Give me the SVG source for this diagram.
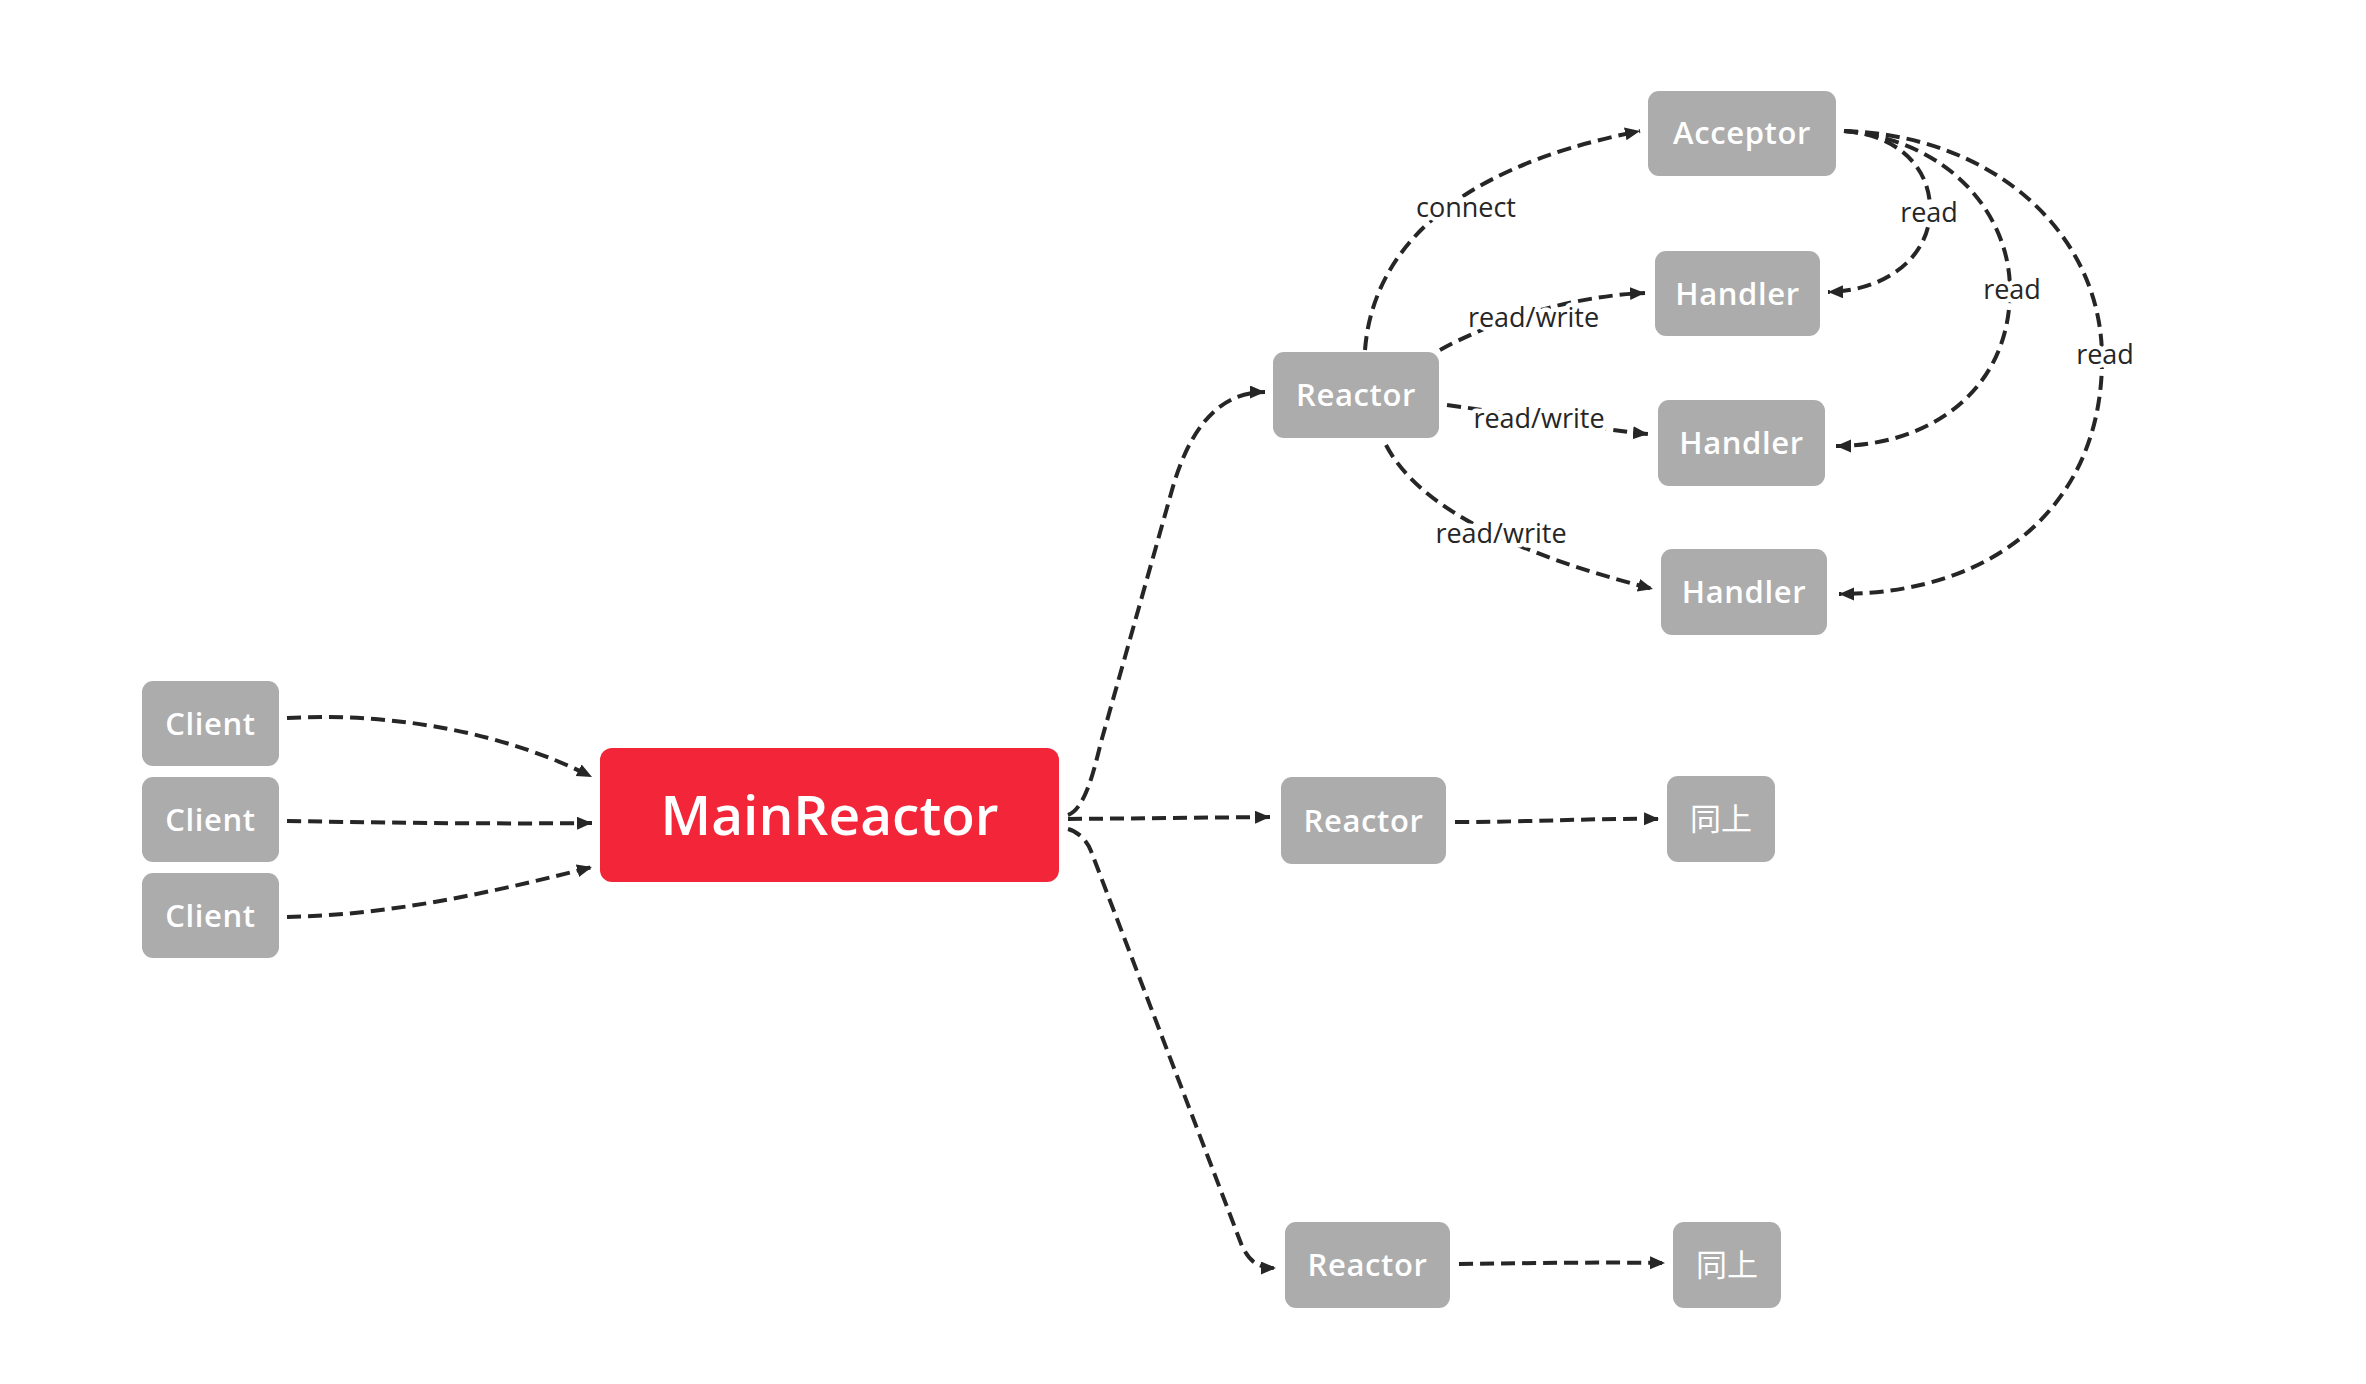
<svg xmlns="http://www.w3.org/2000/svg" width="2366" height="1384" viewBox="0 0 2366 1384">
<style>
.box{fill:#acacac}
.main{fill:#f22638}
.nt{font-family:"Open Sans","Liberation Sans",sans-serif;font-weight:600;font-size:31px;letter-spacing:0.6px;fill:#ffffff;text-anchor:middle}
.cjk{font-family:"Noto Sans CJK SC","Noto Sans",sans-serif;font-weight:400;font-size:31px;fill:#ffffff;text-anchor:middle}
.mt{font-family:"Open Sans","Liberation Sans",sans-serif;font-weight:600;font-size:55px;fill:#ffffff;text-anchor:middle}
.edge{fill:none;stroke:#262626;stroke-width:4;stroke-dasharray:14 7;marker-end:url(#arr)}
.lbl{font-family:"Open Sans","Liberation Sans",sans-serif;font-size:27px;fill:#262626;text-anchor:middle;paint-order:stroke;stroke:#ffffff;stroke-width:9px;stroke-linejoin:round}
</style>
<defs>
<marker id="arr" markerUnits="userSpaceOnUse" markerWidth="17" markerHeight="15" refX="15" refY="6.5" orient="auto">
<path d="M0,0 L15,6.5 L0,13 z" fill="#262626"/>
</marker>
</defs>
<rect width="2366" height="1384" fill="#ffffff"/>
<g id="connectors">
<path class="edge" d="M287,718 C400,712 510,735 592,777"/>
<path class="edge" d="M287,821 C400,823 500,824 592,823"/>
<path class="edge" d="M287,917 C390,915 490,893 592,867"/>
<path class="edge" d="M1068,815 C1088,808 1097,755 1103,735 L1172,490 C1185,444 1210,392 1265,392"/>
<path class="edge" d="M1068,819 L1270,817"/>
<path class="edge" d="M1068,829 C1080,832 1088,843 1091,851 L1242,1246 C1250,1262 1258,1268 1276,1268"/>
<path class="edge" d="M1455,822 C1530,822 1600,818 1659,819"/>
<path class="edge" d="M1459,1264 C1530,1263 1600,1262 1665,1263"/>
<path class="edge" d="M1365,350 C1372,260 1440,170 1640,131"/>
<path class="edge" d="M1440,350 C1490,322 1570,296 1645,293"/>
<path class="edge" d="M1447,405 C1530,416 1600,430 1648,434"/>
<path class="edge" d="M1386,445 C1420,510 1520,555 1653,589"/>
<path class="edge" d="M1844,131 C1900,135 1932,170 1930,213 C1928,258 1885,291 1828,292"/>
<path class="edge" d="M1844,131 C1950,140 2010,215 2010,290 C2010,390 1930,446 1836,446"/>
<path class="edge" d="M1844,131 C1990,135 2100,230 2102,355 C2104,500 2000,594 1839,594"/>
<text class="lbl" x="1466" y="217">connect</text>
<text class="lbl" x="1533.5" y="327">read/write</text>
<text class="lbl" x="1539" y="428">read/write</text>
<text class="lbl" x="1501" y="543">read/write</text>
<text class="lbl" x="1929" y="222">read</text>
<text class="lbl" x="2012" y="299">read</text>
<text class="lbl" x="2105" y="364">read</text>
</g>
<g id="client1"><rect class="box" x="142" y="681" width="137" height="85" rx="11"/><text class="nt" x="210.5" y="734.5">Client</text></g>
<g id="client2"><rect class="box" x="142" y="777" width="137" height="85" rx="11"/><text class="nt" x="210.5" y="830.5">Client</text></g>
<g id="client3"><rect class="box" x="142" y="873" width="137" height="85" rx="11"/><text class="nt" x="210.5" y="926.5">Client</text></g>
<g id="mainreactor"><rect class="main" x="600" y="748" width="459" height="134" rx="12"/><text class="mt" x="829.5" y="835">MainReactor</text></g>
<g id="reactor1"><rect class="box" x="1273" y="352" width="166" height="86" rx="11"/><text class="nt" x="1356" y="406">Reactor</text></g>
<g id="reactor2"><rect class="box" x="1281" y="777" width="165" height="87" rx="11"/><text class="nt" x="1363.5" y="831.5">Reactor</text></g>
<g id="reactor3"><rect class="box" x="1285" y="1222" width="165" height="86" rx="11"/><text class="nt" x="1367.5" y="1276">Reactor</text></g>
<g id="acceptor"><rect class="box" x="1648" y="91" width="188" height="85" rx="11"/><text class="nt" x="1742" y="144">Acceptor</text></g>
<g id="handler1"><rect class="box" x="1655" y="251" width="165" height="85" rx="11"/><text class="nt" x="1737.5" y="304.5">Handler</text></g>
<g id="handler2"><rect class="box" x="1658" y="400" width="167" height="86" rx="11"/><text class="nt" x="1741.5" y="454">Handler</text></g>
<g id="handler3"><rect class="box" x="1661" y="549" width="166" height="86" rx="11"/><text class="nt" x="1744" y="603">Handler</text></g>
<g id="same1"><rect class="box" x="1667" y="776" width="108" height="86" rx="11"/><text class="cjk" x="1721" y="830">同上</text></g>
<g id="same2"><rect class="box" x="1673" y="1222" width="108" height="86" rx="11"/><text class="cjk" x="1727" y="1276">同上</text></g>
</svg>
